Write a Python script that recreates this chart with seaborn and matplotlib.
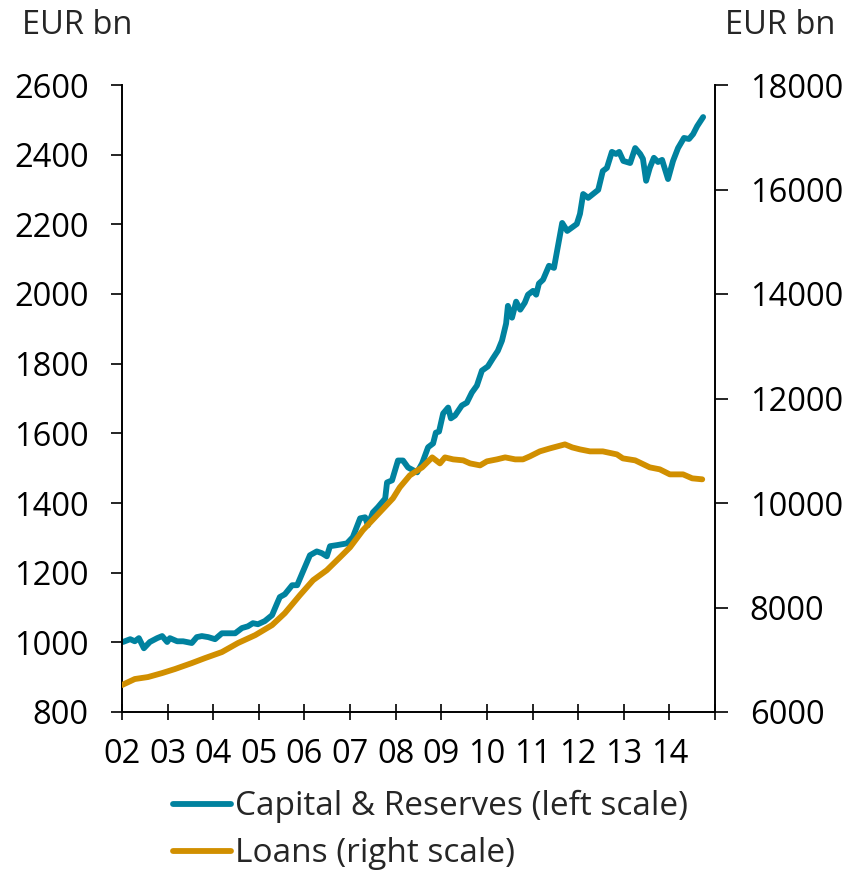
"""Capital & Reserves (left scale) vs Loans (right scale), EUR bn, 2002-2014."""

import matplotlib as mpl

mpl.use("Agg")

import matplotlib.pyplot as plt
import pandas as pd
import seaborn as sns

sns.set_theme(style="ticks")
plt.rcParams["font.family"] = ["Open Sans", "DejaVu Sans"]

BLUE = "#00829F"
GOLD = "#D18F00"
FONT_SIZE = 23.5

# Capital & Reserves, EUR bn (left scale) -- decimal year / value
cr_year = [
    2002.02, 2002.18, 2002.28, 2002.37, 2002.48, 2002.61, 2002.77, 2002.88, 2002.99, 2003.05,
    2003.21, 2003.34, 2003.53, 2003.64, 2003.75, 2003.89, 2004.04, 2004.19, 2004.37, 2004.48,
    2004.63, 2004.76, 2004.87, 2004.98, 2005.13, 2005.29, 2005.40, 2005.46, 2005.57, 2005.73,
    2005.84, 2005.95, 2006.12, 2006.27, 2006.38, 2006.49, 2006.56, 2006.71, 2006.93, 2007.06,
    2007.22, 2007.33, 2007.39, 2007.50, 2007.61, 2007.77, 2007.81, 2007.92, 2008.05, 2008.16,
    2008.27, 2008.47, 2008.58, 2008.71, 2008.82, 2008.88, 2008.95, 2009.04, 2009.15, 2009.21,
    2009.30, 2009.45, 2009.56, 2009.67, 2009.78, 2009.89, 2010.02, 2010.13, 2010.24, 2010.33,
    2010.42, 2010.46, 2010.55, 2010.64, 2010.73, 2010.83, 2010.90, 2011.01, 2011.08, 2011.14,
    2011.23, 2011.36, 2011.47, 2011.65, 2011.76, 2011.97, 2012.04, 2012.11, 2012.22, 2012.44,
    2012.54, 2012.63, 2012.74, 2012.83, 2012.90, 2012.99, 2013.14, 2013.25, 2013.36, 2013.42,
    2013.49, 2013.57, 2013.66, 2013.75, 2013.84, 2013.97, 2014.08, 2014.19, 2014.32, 2014.43,
    2014.52, 2014.61, 2014.74,
]
cr_value = [
    1001, 1009, 1003, 1012, 983, 1001, 1012, 1018, 1001, 1012,
    1003, 1003, 998, 1015, 1018, 1015, 1009, 1026, 1026, 1026,
    1041, 1046, 1055, 1052, 1061, 1078, 1112, 1130, 1138, 1164,
    1164, 1198, 1250, 1261, 1256, 1247, 1276, 1279, 1284, 1302,
    1356, 1359, 1336, 1373, 1388, 1413, 1459, 1465, 1522, 1522,
    1502, 1488, 1514, 1560, 1571, 1602, 1605, 1657, 1674, 1643,
    1651, 1680, 1688, 1717, 1737, 1780, 1792, 1815, 1837, 1866,
    1915, 1966, 1932, 1978, 1955, 1975, 1998, 2009, 1998, 2030,
    2041, 2081, 2075, 2204, 2181, 2201, 2230, 2287, 2276, 2299,
    2353, 2362, 2408, 2402, 2408, 2382, 2376, 2419, 2402, 2388,
    2325, 2362, 2391, 2379, 2385, 2330, 2382, 2419, 2448, 2445,
    2459, 2482, 2508,
]

# Loans, EUR bn (right scale)
loans_year = [
    2002.00, 2002.28, 2002.57, 2002.88, 2003.16, 2003.53, 2003.82, 2004.19, 2004.54, 2004.92,
    2005.29, 2005.57, 2005.90, 2006.19, 2006.49, 2006.78, 2007.00, 2007.28, 2007.59, 2007.94,
    2008.09, 2008.31, 2008.58, 2008.80, 2008.97, 2009.08, 2009.26, 2009.48, 2009.63, 2009.85,
    2010.00, 2010.22, 2010.40, 2010.62, 2010.79, 2010.94, 2011.16, 2011.38, 2011.71, 2011.87,
    2012.04, 2012.26, 2012.54, 2012.85, 2012.98, 2013.25, 2013.57, 2013.79, 2014.01, 2014.30,
    2014.50, 2014.72,
]
loans_value = [
    6516, 6631, 6669, 6745, 6822, 6936, 7032, 7147, 7319, 7471,
    7663, 7892, 8236, 8523, 8714, 8962, 9153, 9478, 9765, 10090,
    10300, 10529, 10682, 10873, 10758, 10873, 10835, 10816, 10758, 10720,
    10797, 10835, 10873, 10835, 10835, 10892, 10988, 11045, 11122, 11064,
    11026, 10988, 10988, 10930, 10854, 10816, 10682, 10644, 10548, 10548,
    10472, 10453,
]

year_ticks = list(range(2002, 2016))
year_labels = [f"{y % 100:02d}" for y in range(2002, 2015)] + [""]
left_ticks = list(range(800, 2601, 200))
right_ticks = list(range(6000, 18001, 2000))

cr = pd.DataFrame({"year": cr_year, "value": cr_value})
loans = pd.DataFrame({"year": loans_year, "value": loans_value})

fig = plt.figure(figsize=(8.45, 8.73), dpi=100)
ax = fig.add_axes([122 / 845, 1 - 712 / 873, (715 - 122) / 845, (712 - 85) / 873])
ax2 = ax.twinx()

sns.lineplot(data=cr, x="year", y="value", ax=ax, color=BLUE, linewidth=4.2,
             label="Capital & Reserves (left scale)", legend=False, sort=False)
sns.lineplot(data=loans, x="year", y="value", ax=ax2, color=GOLD, linewidth=4.2,
             label="Loans (right scale)", legend=False, sort=False)

ax.set_xlim(2002, 2015)
ax.set_ylim(800, 2600)
ax2.set_ylim(6000, 18000)
ax.set_xticks(year_ticks)
ax.set_xticklabels(year_labels)
ax.set_yticks(left_ticks)
ax2.set_yticks(right_ticks)
for a in (ax, ax2):
    a.set_xlabel("")
    a.set_ylabel("")

for side in ("top", "right"):
    ax.spines[side].set_visible(False)
for side in ("top", "left", "bottom"):
    ax2.spines[side].set_visible(False)
for sp in (ax.spines["left"], ax.spines["bottom"], ax2.spines["right"]):
    sp.set_linewidth(1.4)
    sp.set_color("black")

ax.tick_params(axis="x", direction="inout", length=11, width=1.2, pad=13,
               labelsize=FONT_SIZE, colors="black")
ax.tick_params(axis="y", direction="out", length=8, width=1.2, pad=16,
               labelsize=FONT_SIZE, colors="black")
ax2.tick_params(axis="y", direction="out", length=9, width=1.2, pad=16,
                labelsize=FONT_SIZE, colors="black")

fig.text(22 / 845, 1 - 25 / 873, "EUR bn", fontsize=FONT_SIZE, ha="left", va="center")
fig.text(835 / 845, 1 - 25 / 873, "EUR bn", fontsize=FONT_SIZE, ha="right", va="center")

handles = ax.get_lines()[:1] + ax2.get_lines()[:1]
labels = ["Capital & Reserves (left scale)", "Loans (right scale)"]
fig.legend(handles, labels, loc="upper left", bbox_to_anchor=(173 / 845, 1 - 790 / 873),
           frameon=False, fontsize=24, handlelength=1.75, handletextpad=0.1,
           labelspacing=0.42, borderaxespad=0, borderpad=0)

fig.savefig("out.png", dpi=100)
plt.close(fig)
